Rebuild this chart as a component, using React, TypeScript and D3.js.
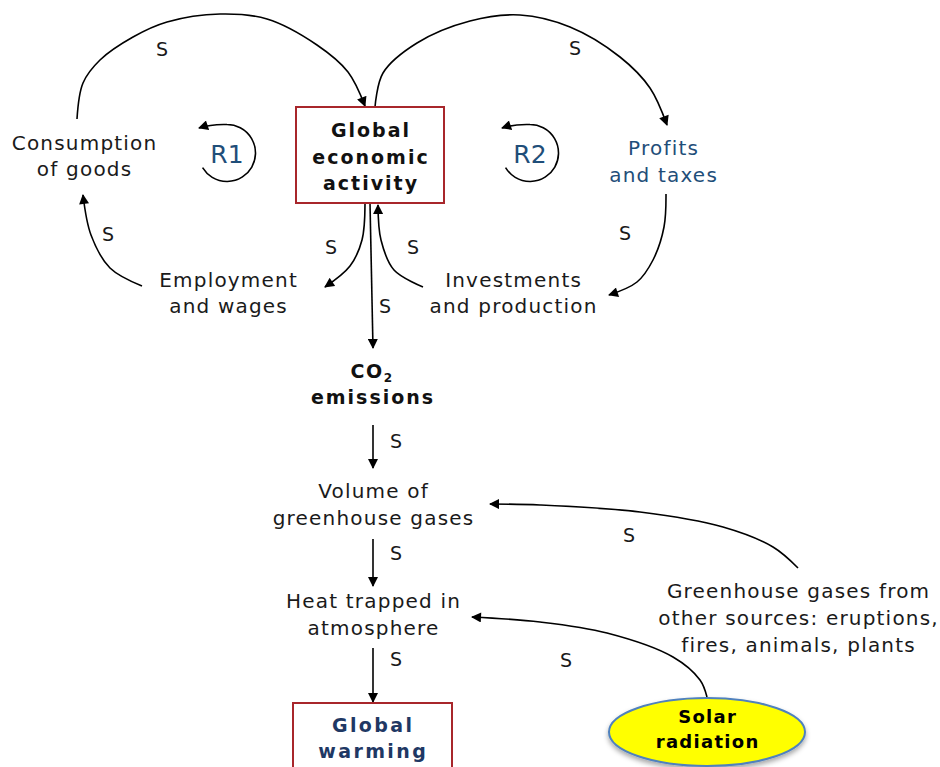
import { useEffect } from 'react';
import * as d3 from 'd3';

const WIDTH = 940;
const HEIGHT = 767;

// Node labels (one entry per line of text)
const CONSUMPTION = ['Consumption', 'of goods'];
const ECONOMY = ['Global', 'economic', 'activity'];
const PROFITS = ['Profits', 'and taxes'];
const EMPLOYMENT = ['Employment', 'and wages'];
const INVESTMENTS = ['Investments', 'and production'];
const EMISSIONS = ['emissions'];
const VOLUME = ['Volume of', 'greenhouse gases'];
const HEAT = ['Heat trapped in', 'atmosphere'];
const WARMING = ['Global', 'warming'];
const OTHER_SOURCES = ['Greenhouse gases from', 'other sources: eruptions,', 'fires, animals, plants'];
const SOLAR = ['Solar', 'radiation'];

// Causal links: source -> target, polarity
const LINKS = [
  { id: 'cons-econ', sign: 'S' },
  { id: 'econ-profits', sign: 'S' },
  { id: 'profits-inv', sign: 'S' },
  { id: 'emp-cons', sign: 'S' },
  { id: 'econ-emp', sign: 'S' },
  { id: 'inv-econ', sign: 'S' },
  { id: 'econ-co2', sign: 'S' },
  { id: 'co2-vol', sign: 'S' },
  { id: 'vol-heat', sign: 'S' },
  { id: 'heat-warm', sign: 'S' },
  { id: 'other-vol', sign: 'S' },
  { id: 'solar-heat', sign: 'S' },
];

const LOOPS = ['R1', 'R2'];

// ---- layout (pixel geometry of the diagram) ----
const LINK_ROUTES: Record<string, [number, number][]> = {
  'cons-econ': [[77, 119], [83, 83], [100, 60], [133, 37], [167, 22], [220, 14], [267, 19], [317, 45], [348, 72], [365, 106]],
  'econ-profits': [[375, 107], [383, 73], [417, 43], [470, 21], [520, 15], [570, 27], [620, 57], [650, 88], [667, 125]],
  'profits-inv': [[666, 194], [664, 227], [653, 260], [637, 282], [609, 295]],
  'emp-cons': [[142, 286], [110, 268], [91, 235], [83, 195]],
  'econ-emp': [[365, 204], [362, 240], [350, 266], [325, 287]],
  'inv-econ': [[423, 287], [394, 270], [381, 240], [378, 205]],
  'econ-co2': [[370, 203], [373, 348]],
  'co2-vol': [[373, 425], [373, 468]],
  'vol-heat': [[373, 539], [373, 586]],
  'heat-warm': [[373, 648], [373, 702]],
  'other-vol': [[798, 568], [773, 547], [723, 527], [640, 512], [540, 505], [490, 504]],
  'solar-heat': [[707, 697], [700, 680], [673, 657], [607, 633], [540, 622], [472, 617]],
};

const SIGN_POS: Record<string, [number, number]> = {
  'cons-econ': [162, 49],
  'econ-profits': [575, 48],
  'profits-inv': [625, 233],
  'emp-cons': [108, 234],
  'econ-emp': [331, 247],
  'inv-econ': [413, 247],
  'econ-co2': [385, 306],
  'co2-vol': [396, 441],
  'vol-heat': [396, 553],
  'heat-warm': [396, 659],
  'other-vol': [629, 535],
  'solar-heat': [566, 660],
};

const LOOP_POS: [number, number][] = [[227, 153], [530, 153]];

const INK = '#1a1a1a';
const BLUE = '#1f4e79';
const NAVY = '#1f3864';
const BOX_RED = '#a8262b';
const FONT = '"DejaVu Sans", Verdana, sans-serif';

const curve = d3.line().curve(d3.curveCatmullRom.alpha(0.5));

function Lines({ lines, x, y, step, color = INK, size = 20, bold = false, spacing = 1.2 }: {
  lines: string[]; x: number; y: number; step: number; color?: string; size?: number; bold?: boolean; spacing?: number;
}) {
  return (
    <text
      x={x}
      y={y}
      textAnchor="middle"
      fill={color}
      fontSize={size}
      fontWeight={bold ? 700 : 400}
      letterSpacing={spacing}
      fontFamily={FONT}
    >
      {lines.map((l, i) => (
        <tspan key={i} x={x + spacing / 2} y={y + i * step}>{l}</tspan>
      ))}
    </text>
  );
}

export default function App() {
  useEffect(() => {
    document.body.style.margin = '0';
  }, []);

  return (
    <svg width={WIDTH} height={HEIGHT} style={{ display: 'block' }} fontFamily={FONT}>
      <defs>
        <marker id="arrow" viewBox="0 0 10 10" refX={9} refY={5} markerWidth={11} markerHeight={10}
          markerUnits="userSpaceOnUse" orient="auto">
          <path d="M0,0L10,5L0,10z" fill="#000" />
        </marker>
        <filter id="shadow" x="-20%" y="-20%" width="140%" height="160%">
          <feDropShadow dx={0} dy={3} stdDeviation={2.5} floodColor="#000" floodOpacity={0.35} />
        </filter>
      </defs>
      <rect width={WIDTH} height={HEIGHT} fill="#fff" />

      {/* Causal links */}
      {LINKS.map((lk) => {
        const [sx, sy] = SIGN_POS[lk.id];
        return (
          <g key={lk.id}>
            <path d={curve(LINK_ROUTES[lk.id]) ?? ''} fill="none" stroke="#000" strokeWidth={1.6}
              markerEnd="url(#arrow)" />
            <text x={sx} y={sy} textAnchor="middle" dominantBaseline="central" fontSize={19} fill={INK}>
              {lk.sign}
            </text>
          </g>
        );
      })}

      {/* Reinforcing loop markers */}
      {LOOPS.map((name, i) => {
        const [cx, cy] = LOOP_POS[i];
        const p = d3.path();
        const r = 28.5;
        p.arc(cx, cy, r, 2.6, -Math.PI / 2, true);
        p.quadraticCurveTo(cx - 16, cy - r - 0.5, cx - 28, cy - r + 3.5);
        return (
          <g key={name}>
            <path d={p.toString()} fill="none" stroke="#000" strokeWidth={1.6} markerEnd="url(#arrow)" />
            <text x={cx} y={cy + 10} textAnchor="middle" fontSize={25} fill={BLUE}>{name}</text>
          </g>
        );
      })}

      {/* Global economic activity */}
      <rect x={296} y={107} width={148} height={96} fill="#fff" stroke={BOX_RED} strokeWidth={2} />
      <Lines lines={ECONOMY} x={370} y={137} step={26.5} size={19} bold spacing={2} color="#111" />

      <Lines lines={CONSUMPTION} x={84} y={150} step={26} />
      <Lines lines={PROFITS} x={663} y={155} step={27} color={BLUE} />
      <Lines lines={EMPLOYMENT} x={228} y={287} step={26} />
      <Lines lines={INVESTMENTS} x={513} y={287} step={26} />

      {/* CO2 emissions */}
      <text x={372} y={378} textAnchor="middle" fontSize={19} fontWeight={700} fill="#111" letterSpacing={1.5}>
        CO<tspan fontSize={12} dy={4}>2</tspan>
      </text>
      <Lines lines={EMISSIONS} x={372} y={404} step={26} size={19} bold spacing={2} color="#111" />

      <Lines lines={VOLUME} x={373} y={498} step={27} />
      <Lines lines={HEAT} x={373} y={608} step={27} />
      <Lines lines={OTHER_SOURCES} x={798} y={598} step={27} />

      {/* Global warming */}
      <rect x={293} y={703} width={159} height={90} fill="#fff" stroke={BOX_RED} strokeWidth={2} />
      <Lines lines={WARMING} x={372} y={732} step={26} size={19} bold spacing={2.4} color={NAVY} />

      {/* Solar radiation */}
      <ellipse cx={707} cy={732} rx={98} ry={34} fill="#ffff00" stroke="#4f81bd" strokeWidth={2}
        filter="url(#shadow)" />
      <Lines lines={SOLAR} x={707} y={723} step={25} size={18} bold spacing={1.3} color="#000" />
    </svg>
  );
}
